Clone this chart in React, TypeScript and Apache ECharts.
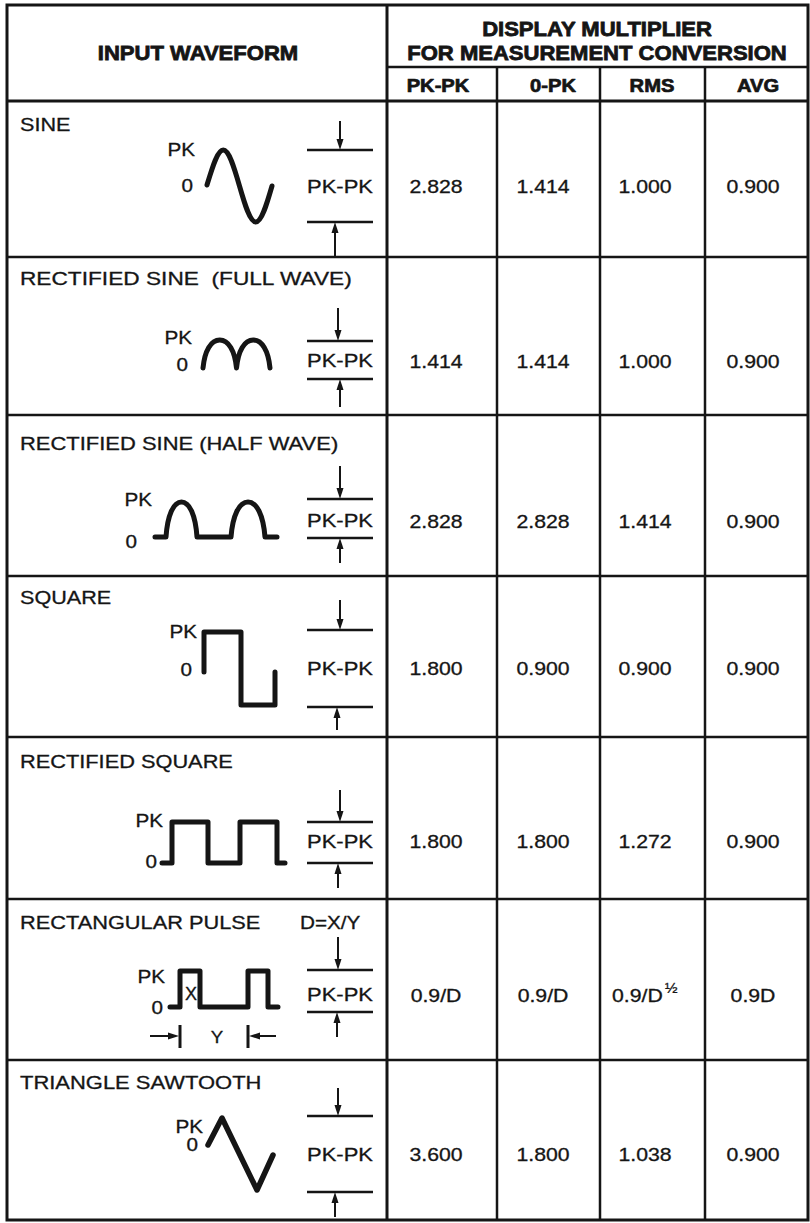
import React, { useEffect, useRef } from 'react';
import * as echarts from 'echarts';

// ---------- data ----------
const headerLeft = 'INPUT WAVEFORM';
const headerRight = ['DISPLAY MULTIPLIER', 'FOR MEASUREMENT CONVERSION'];
const columnHeads = ['PK-PK', '0-PK', 'RMS', 'AVG'];
const waveforms = [
  'SINE',
  'RECTIFIED SINE  (FULL WAVE)',
  'RECTIFIED SINE (HALF WAVE)',
  'SQUARE',
  'RECTIFIED SQUARE',
  'RECTANGULAR PULSE',
  'TRIANGLE SAWTOOTH',
];
const pkpkValues = ['2.828', '1.414', '2.828', '1.800', '1.800', '0.9/D', '3.600'];
const zeroPkValues = ['1.414', '1.414', '2.828', '0.900', '1.800', '0.9/D', '1.800'];
const rmsValues = ['1.000', '1.000', '1.414', '0.900', '1.272', '0.9/D^½', '1.038'];
const avgValues = ['0.900', '0.900', '0.900', '0.900', '0.900', '0.9D', '0.900'];
const pkLabel = 'PK';
const zeroLabel = '0';
const pkpkLabel = 'PK-PK';
const dutyLabel = 'D=X/Y';
const pulseXLabel = 'X';
const pulseYLabel = 'Y';

// ---------- drawing helpers ----------
const FONT = '"Liberation Sans", Arial, Helvetica, sans-serif';
const INK = '#151515';

// sine-like half period (zero -> peak -> zero)
function arch(x0: number, yb: number, q: number, a: number) {
  return ` C ${x0 + 0.326 * q} ${yb - 0.512 * a} ${x0 + 0.638 * q} ${yb - a} ${x0 + q} ${yb - a}` +
    ` C ${x0 + 1.362 * q} ${yb - a} ${x0 + 1.674 * q} ${yb - 0.512 * a} ${x0 + 2 * q} ${yb}`;
}
// rounder hump with steep legs (rectified waves)
function hump(x0: number, yb: number, q: number, a: number) {
  return ` C ${x0 + 0.1 * q} ${yb - 0.62 * a} ${x0 + 0.48 * q} ${yb - a} ${x0 + q} ${yb - a}` +
    ` C ${x0 + 1.52 * q} ${yb - a} ${x0 + 1.9 * q} ${yb - 0.62 * a} ${x0 + 2 * q} ${yb}`;
}

const sinePath = `M 207 185` + arch(207, 186, 16.25, 36) + arch(239.5, 186, 16.25, -36);
const fullWavePath = `M 203 368` + hump(203, 368, 16.75, 28) + hump(236.5, 368, 16.75, 28);
const halfWavePath = `M 155 537 L 166 537` + hump(166, 537, 15.5, 35) + ` L 231 537` + hump(231, 537, 17, 35) + ` L 277 537`;

echarts.graphic.registerShape('wfSine', echarts.graphic.extendPath(sinePath, {}));
echarts.graphic.registerShape('wfFull', echarts.graphic.extendPath(fullWavePath, {}));
echarts.graphic.registerShape('wfHalf', echarts.graphic.extendPath(halfWavePath, {}));

function txt(x: number, y: number, s: string, o: any = {}) {
  const align = o.align || 'left';
  return {
    type: 'text',
    x,
    y,
    scaleX: o.sx ?? 1.2,
    silent: true,
    style: {
      text: s,
      fill: INK,
      stroke: INK,
      lineWidth: o.stroke ?? 0.3,
      fontSize: o.size ?? 18,
      fontFamily: FONT,
      fontWeight: o.weight ?? 'normal',
      fontStyle: o.style ?? 'normal',
      align,
      textAlign: align,
      verticalAlign: 'middle',
      textVerticalAlign: 'middle',
    },
  };
}

function seg(x1: number, y1: number, x2: number, y2: number, w = 2.5, cap = 'butt') {
  return {
    type: 'line',
    silent: true,
    shape: { x1, y1, x2, y2 },
    style: { stroke: INK, lineWidth: w, lineCap: cap },
  };
}

function poly(points: number[][], w = 5) {
  return {
    type: 'polyline',
    silent: true,
    shape: { points },
    style: { stroke: INK, lineWidth: w, fill: 'none', lineJoin: 'round', lineCap: 'round' },
  };
}

function vArrow(x: number, from: number, tip: number) {
  const d = tip > from ? 1 : -1;
  return [
    seg(x, from, x, tip - d * 6, 2),
    {
      type: 'polygon',
      silent: true,
      shape: { points: [[x - 3.5, tip - d * 11], [x + 3.5, tip - d * 11], [x, tip]] },
      style: { fill: INK },
    },
  ];
}

function hArrow(from: number, tip: number, y: number) {
  const d = tip > from ? 1 : -1;
  return [
    seg(from, y, tip - d * 6, y, 2),
    {
      type: 'polygon',
      silent: true,
      shape: { points: [[tip - d * 11, y - 3.5], [tip - d * 11, y + 3.5], [tip, y]] },
      style: { fill: INK },
    },
  ];
}

// ---------- layout ----------
const L = 7, R = 808, TOP = 5, BOTTOM = 1220;
const DIV = 387;
const colLines = [497, 600, 705];
const colCenters = [436, 543, 645, 753];
const headCenters = [438, 553, 652, 758];
const rowLines = [257, 415, 576, 737, 899, 1060];
const labelY = [125, 278, 444, 598, 762, 923, 1083];
const valueY = [187, 362, 522, 669, 842, 996, 1155];
const labelScale = [1.2, 1.26, 1.22, 1.2, 1.21, 1.21, 1.22];

// per-row PK-PK indicator: [topArrowStart, topLine, bottomLine, bottomArrowEnd, textY, arrowXTop, arrowXBottom]
const indicators = [
  [121, 150, 222, 257, 187, 340, 335],
  [308, 341, 379, 407, 361, 338, 340],
  [466, 499, 538, 563, 521, 340, 340],
  [600, 630, 707, 730, 669, 340, 337],
  [790, 822, 863, 888, 842, 340, 338],
  [937, 970, 1012, 1037, 995, 338, 337],
  [1088, 1116, 1192, 1217, 1155, 338, 335],
];
// per-row PK / 0 labels: [pkRight, pkY, zeroRight, zeroY]
const levelLabels = [
  [195, 150, 193, 186],
  [192, 338, 188, 365],
  [152, 500, 137, 542],
  [197, 632, 192, 670],
  [163, 821, 157, 862],
  [165, 977, 163, 1008],
  [203, 1127, 198, 1145],
];

function buildElements() {
  const els: any[] = [];
  // frame
  els.push({ type: 'rect', silent: true, shape: { x: L, y: TOP, width: R - L, height: BOTTOM - TOP }, style: { fill: '#fff', stroke: INK, lineWidth: 3 } });
  els.push(seg(DIV, TOP, DIV, BOTTOM, 3));
  els.push(seg(DIV, 67, R, 67, 2.5));
  els.push(seg(L, 101, R, 101, 3));
  colLines.forEach((x) => els.push(seg(x, 67, x, BOTTOM, 2.5)));
  rowLines.forEach((y) => els.push(seg(L, y, R, y, 2.5)));

  // headers
  const hd = { align: 'center', size: 21, weight: 'bold', sx: 1.05, stroke: 0.8 };
  els.push(txt(198, 53, headerLeft, hd));
  els.push(txt(597, 29, headerRight[0], hd));
  els.push(txt(597, 53, headerRight[1], hd));
  columnHeads.forEach((h, i) => els.push(txt(headCenters[i], 86, h, { align: 'center', size: 18, weight: 'bold', sx: 1.12, stroke: 0.7 })));

  // rows
  waveforms.forEach((name, r) => {
    els.push(txt(20, labelY[r], name, { size: 18, sx: labelScale[r] }));
    const [pr, py, zr, zy] = levelLabels[r];
    els.push(txt(pr, py, pkLabel, { align: 'right', size: 18, sx: 1.15 }));
    els.push(txt(zr, zy, zeroLabel, { align: 'right', size: 18, sx: 1.15 }));
    const [ta, tl, bl, ba, ty, axT, axB] = indicators[r];
    els.push(seg(307, tl, 373, tl, 2.5));
    els.push(seg(307, bl, 373, bl, 2.5));
    els.push(...vArrow(axT, ta, tl));
    els.push(...vArrow(axB, ba, bl));
    els.push(txt(340, ty, pkpkLabel, { align: 'center', size: 18, sx: 1.22 }));

    const vals = [pkpkValues[r], zeroPkValues[r], rmsValues[r], avgValues[r]];
    vals.forEach((v, c) => {
      if (v.includes('^')) {
        const [base, sup] = v.split('^');
        els.push(txt(612, valueY[r], base, { size: 18, sx: 1.18 }));
        els.push(txt(665, valueY[r] - 9, sup, { size: 15, sx: 1.0, stroke: 0.3 }));
      } else {
        els.push(txt(colCenters[c], valueY[r], v, { align: 'center', size: 18, sx: 1.18 }));
      }
    });
  });

  // waveform glyphs
  const wStyle = { stroke: INK, lineWidth: 5, fill: 'none', lineCap: 'round', lineJoin: 'round' };
  els.push({ type: 'wfSine', x: 0, y: 0, silent: true, style: wStyle });
  els.push({ type: 'wfFull', x: 0, y: 0, silent: true, style: wStyle });
  els.push({ type: 'wfHalf', x: 0, y: 0, silent: true, style: wStyle });
  els.push(poly([[204, 672], [204, 632], [241, 632], [241, 705], [275, 705], [275, 672]]));
  els.push(poly([[162, 863], [172, 863], [172, 822], [208, 822], [208, 863], [240, 863], [240, 822], [277, 822], [277, 863], [285, 863]]));
  els.push(poly([[170, 1007], [180, 1007], [180, 971], [200, 971], [200, 1007], [248, 1007], [248, 971], [268, 971], [268, 1007], [278, 1007]]));
  els.push(poly([[208, 1145], [222, 1118], [257, 1190], [273, 1155]], 5.5));

  // pulse annotations
  els.push(txt(300, 923, dutyLabel, { size: 18, sx: 1.15 }));
  els.push(txt(191, 994, pulseXLabel, { align: 'center', size: 18, sx: 1.0 }));
  els.push(...hArrow(150, 179, 1036));
  els.push(seg(180, 1025, 180, 1048, 3));
  els.push(txt(217, 1037, pulseYLabel, { align: 'center', size: 17, sx: 1.1 }));
  els.push(seg(248, 1025, 248, 1048, 3));
  els.push(...hArrow(276, 249, 1036));
  return els;
}

export default function App() {
  const ref = useRef<HTMLDivElement>(null);
  useEffect(() => {
    if (!ref.current) return;
    const chart = echarts.init(ref.current, undefined, { renderer: 'svg' });
    chart.setOption({
      animation: false,
      backgroundColor: '#ffffff',
      graphic: { elements: buildElements() },
    });
    return () => chart.dispose();
  }, []);
  return (
    <div
      ref={ref}
      style={{ position: 'absolute', left: 0, top: 0, width: 810, height: 1223, background: '#fff' }}
    />
  );
}
